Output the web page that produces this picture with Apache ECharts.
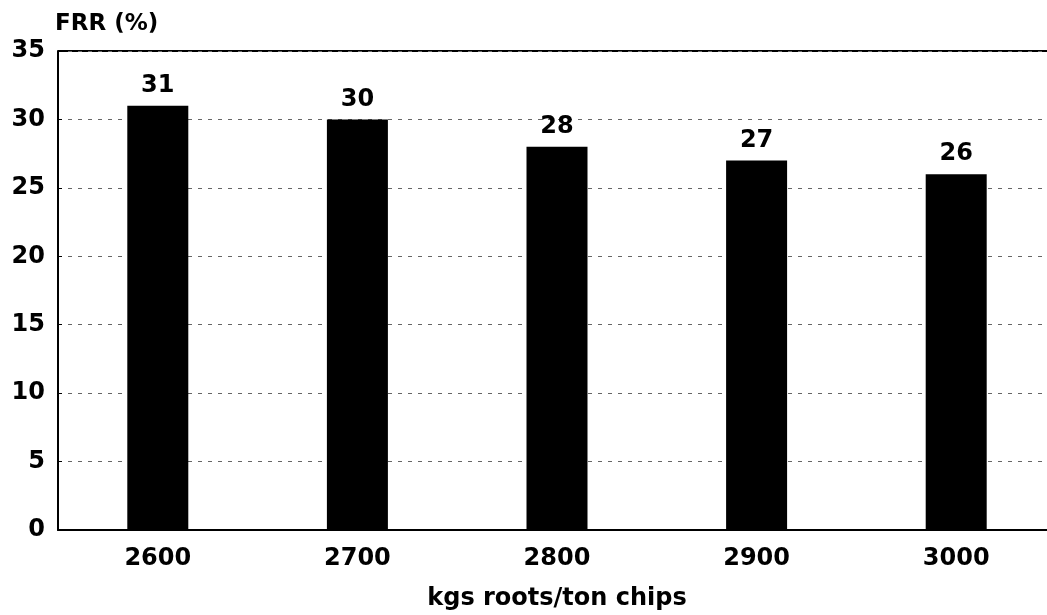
<!DOCTYPE html>
<html>
<head>
<meta charset="utf-8">
<script src="https://cdn.jsdelivr.net/npm/echarts@6/dist/echarts.min.js"></script>
<style>
  html, body { margin: 0; padding: 0; background: #fff; }
  #chart { width: 1047px; height: 615px; }
</style>
</head>
<body>
<div id="chart"></div>
<script>
// Fibre recovery rate by root dosage
const categories = ['2600', '2700', '2800', '2900', '3000'];
const frrValues = [31, 30, 28, 27, 26];
const yTicks = { min: 0, max: 35, interval: 5 };

const font = '"DejaVu Sans", Verdana, sans-serif';

const chart = echarts.init(document.getElementById('chart'), null, { renderer: 'canvas' });
chart.setOption({
  animation: false,
  backgroundColor: '#ffffff',
  grid: {
    left: 58, top: 51, width: 998, height: 479,
    containLabel: false, outerBoundsMode: 'none'
  },
  graphic: [{
    type: 'text',
    left: 55, top: 13,
    style: { text: 'FRR (%)', font: 'bold 23px ' + font, fill: '#000' }
  }, {
    // top frame line at 35
    type: 'line',
    shape: { x1: 58, y1: 51, x2: 1047, y2: 51 },
    style: { stroke: '#000', lineWidth: 2 }
  }],
  xAxis: {
    type: 'category',
    data: categories,
    name: 'kgs roots/ton chips',
    nameLocation: 'middle',
    nameGap: 57,
    nameTextStyle: { fontFamily: font, fontWeight: 'bold', fontSize: 24, color: '#000' },
    axisLine: { lineStyle: { color: '#000', width: 2 } },
    axisTick: { show: false },
    axisLabel: { fontFamily: font, fontWeight: 'bold', fontSize: 24, color: '#000', margin: 17 }
  },
  yAxis: {
    type: 'value',
    min: yTicks.min, max: yTicks.max, interval: yTicks.interval,
    axisLine: { show: true, lineStyle: { color: '#000', width: 2 } },
    axisTick: { show: true, length: 4, inside: true, lineStyle: { color: '#000' } },
    axisLabel: { fontFamily: font, fontWeight: 'bold', fontSize: 24, color: '#000', margin: 13 },
    splitLine: { show: true, lineStyle: { color: '#666', type: [4, 6], width: 1 } }
  },
  series: [{
    type: 'bar',
    data: frrValues,
    barWidth: 61,
    itemStyle: { color: '#000' },
    label: {
      show: true, position: 'top', distance: 8,
      fontFamily: font, fontWeight: 'bold', fontSize: 24, color: '#000'
    }
  }]
});
</script>
</body>
</html>
